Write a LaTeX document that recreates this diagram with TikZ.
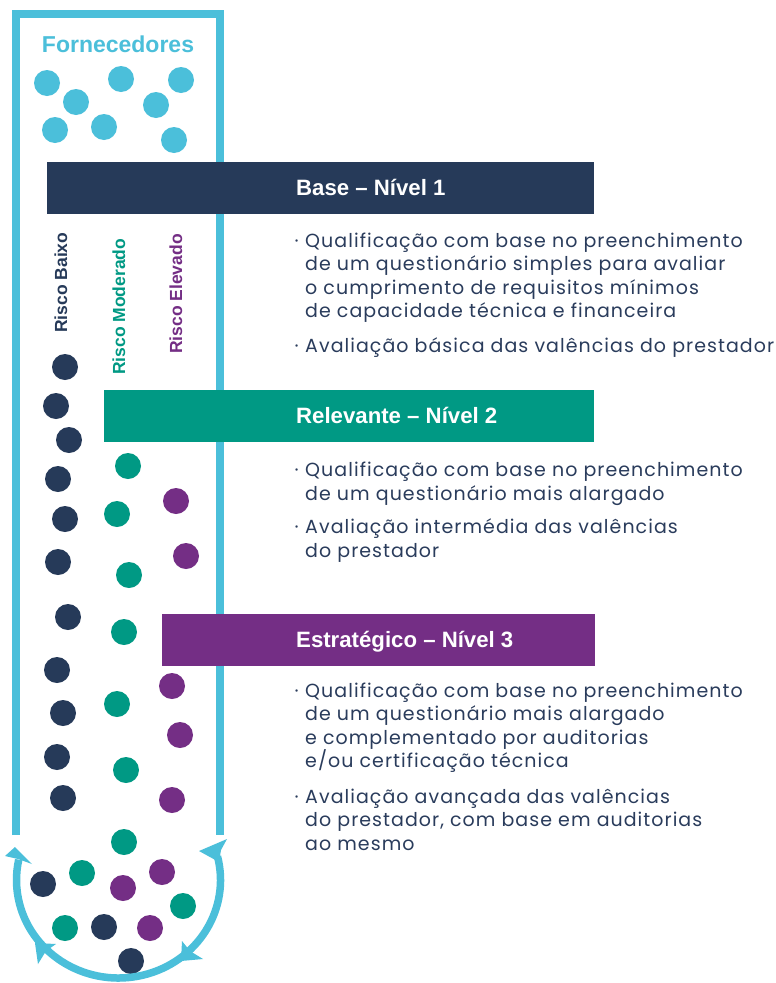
\documentclass[tikz,border=0pt]{standalone}
\usepackage{fontspec}
\setmainfont{Poppins}
\newfontfamily\bodyfont[LetterSpace=5.5]{Poppins}
\newfontfamily\headfont{Liberation Sans}
\definecolor{tubec}{HTML}{4BBFDA}
\definecolor{navyc}{HTML}{263A59}
\definecolor{tealc}{HTML}{009984}
\definecolor{purplec}{HTML}{742E85}
\definecolor{textc}{HTML}{2A3C5C}
\tikzset{
  tubeline/.style={draw=tubec, line width=7.5pt},
  barbox/.style={anchor=north west, minimum height=52pt, inner sep=0pt, draw=none},
  bartext/.style={anchor=base west, inner sep=0pt, text=white, font=\headfont\bfseries\fontsize{22.2}{26}\selectfont},
  bodytext/.style={anchor=base west, inner sep=0pt, text=textc, font=\bodyfont\fontsize{19}{22}\selectfont},
  bullettext/.style={anchor=base west, inner sep=0pt, text=textc, font=\fontsize{19}{22}\selectfont},
  risklabel/.style={anchor=base west, inner sep=0pt, rotate=90, font=\headfont\bfseries\fontsize{17.5}{20}\selectfont},
  dotc/.style={circle, inner sep=0pt, minimum size=26pt, fill=tubec},
  dotn/.style={dotc, fill=navyc},
  dott/.style={dotc, fill=tealc},
  dotp/.style={dotc, fill=purplec},
}
\newcommand\bodyline[3]{\node[bodytext] (#1) at (305,#2) {#3};}
\newcommand\bulletmark[2]{\node[bullettext] (#1) at (294.5,#2) {·};}
\begin{document}
\begin{tikzpicture}[x=1pt,y=-1pt]
\useasboundingbox (0,0) rectangle (776,983);
\fill[white] (0,0) rectangle (776,983);
% tube
\draw[tubeline, line join=miter] (16,835) -- (16,14) -- (220,14) -- (220,835);
% bars
\node[barbox, fill=navyc, minimum width=547pt] (bar1) at (47,162) {};
\node[barbox, fill=tealc, minimum width=490pt] (bar2) at (104,390) {};
\node[barbox, fill=purplec, minimum width=433pt] (bar3) at (162,614) {};
\node[bartext] (h1) at (296,195.5) {Base – Nível 1};
\node[bartext] (h2) at (296,423.5) {Relevante – Nível 2};
\node[bartext] (h3) at (296,647.5) {Estratégico – Nível 3};
% title
\node[text=tubec, font=\headfont\bfseries\fontsize{23}{26}\selectfont, inner sep=0pt] (forn) at (118,44) {Fornecedores};
% risk labels
\node[risklabel, text=navyc] (rb) at (67,333) {Risco Baixo};
\node[risklabel, text=tealc] (rm) at (125,375) {Risco Moderado};
\node[risklabel, text=purplec] (re) at (182,354) {Risco Elevado};
% supplier dots
\foreach \x/\y [count=\i] in {47/83,76/102,121/79,181/80,156/105,55/130,104/127,174/140}
  \node[dotc] (f\i) at (\x,\y) {};
\foreach \x/\y [count=\i] in {65/367,56/406,69/440,58/479,65/519,58/562,68/617,57/670,63/713,57/757,63/798,43/884,104/927,131/961}
  \node[dotn] (n\i) at (\x,\y) {};
\foreach \x/\y [count=\i] in {128/466,117/514,129/575,124/632,117/704,126/770,124/842,82/873,183/906,65/928}
  \node[dott] (t\i) at (\x,\y) {};
\foreach \x/\y [count=\i] in {176/501,186/556,172/686,180/735,172/800,123/888,162/872,150/928}
  \node[dotp] (p\i) at (\x,\y) {};
% cycle arc
\draw[tubeline] (118.5,880) ++(-14:102 and 98) arc[start angle=-14, end angle=192, x radius=102, y radius=98];
\fill[tubec] (15,847) -- (32,864) -- (18,859) -- (5,856) -- cycle;
\fill[tubec] (35,943) -- (56,944) -- (46,951) -- (38,964) -- cycle;
\fill[tubec] (181,961) -- (182,941) -- (190,951) -- (203,959) -- cycle;
\fill[tubec] (199,851) -- (227,839) -- (221,850) -- (219,862) -- cycle;
% block 1
\bulletmark{m11}{247}
\bodyline{l11}{247}{Qualificação com base no preenchimento}
\bodyline{l12}{270.5}{de um questionário simples para avaliar}
\bodyline{l13}{294}{o cumprimento de requisitos mínimos}
\bodyline{l14}{317.5}{de capacidade técnica e financeira}
\bulletmark{m12}{352}
\bodyline{l15}{352}{Avaliação básica das valências do prestador}
% block 2
\bulletmark{m21}{476.5}
\bodyline{l21}{476.5}{Qualificação com base no preenchimento}
\bodyline{l22}{500}{de um questionário mais alargado}
\bulletmark{m22}{533.5}
\bodyline{l23}{533.5}{Avaliação intermédia das valências}
\bodyline{l24}{557}{do prestador}
% block 3
\bulletmark{m31}{697}
\bodyline{l31}{697}{Qualificação com base no preenchimento}
\bodyline{l32}{720.5}{de um questionário mais alargado}
\bodyline{l33}{744}{e complementado por auditorias}
\bodyline{l34}{767.5}{e/ou certificação técnica}
\bulletmark{m32}{803}
\bodyline{l35}{803}{Avaliação avançada das valências}
\bodyline{l36}{826.5}{do prestador, com base em auditorias}
\bodyline{l37}{850}{ao mesmo}
\end{tikzpicture}
\end{document}
